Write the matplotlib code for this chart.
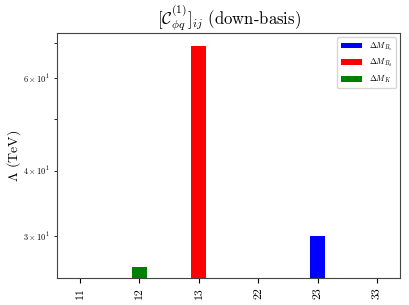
import numpy as np
import matplotlib
matplotlib.use("Agg")
import matplotlib.pyplot as plt

plt.rcParams["font.family"] = "serif"
plt.rcParams["font.serif"] = ["cmr10"]
plt.rcParams["mathtext.fontset"] = "cm"
plt.rcParams["axes.formatter.use_mathtext"] = True

# flavour indices ij
categories = ["11", "12", "13", "22", "23", "33"]
# lower bounds on Lambda (TeV), 0 where no bound
bs_vals = [0, 0, 0, 0, 30.0, 0]
bd_vals = [0, 0, 69.0, 0, 0, 0]
k_vals = [0, 26.2, 0, 0, 0, 0]

x = np.arange(len(categories))
width = 0.25

fig, ax = plt.subplots(figsize=(4.1, 3.05), dpi=100)
fig.subplots_adjust(left=0.139, right=0.976, top=0.892, bottom=0.0885)

ax.bar(x, bs_vals, width, color="blue", label=r"$\Delta M_{B_s}$")
ax.bar(x, bd_vals, width, color="red", label=r"$\Delta M_{B_d}$")
ax.bar(x, k_vals, width, color="green", label=r"$\Delta M_K$")

ax.set_yscale("log")
ax.set_ylim(25, 73)
ax.set_xticks(x)
ax.set_xticklabels(categories, rotation=90, fontsize=8.5)
ax.tick_params(axis="y", which="both", labelsize=6)
ax.set_ylabel(r"$\Lambda$ (TeV)", fontsize=10)
ax.yaxis.set_label_coords(-0.098, 0.5)
ax.set_title(r"$[\mathcal{C}_{\phi q}^{(1)}]_{ij}$ (down-basis)", fontsize=12)
ax.legend(loc="upper right", fontsize=6, handlelength=2.6)
for s in ax.spines.values():
    s.set_color("#444444")

plt.savefig("out.png", dpi=100)
